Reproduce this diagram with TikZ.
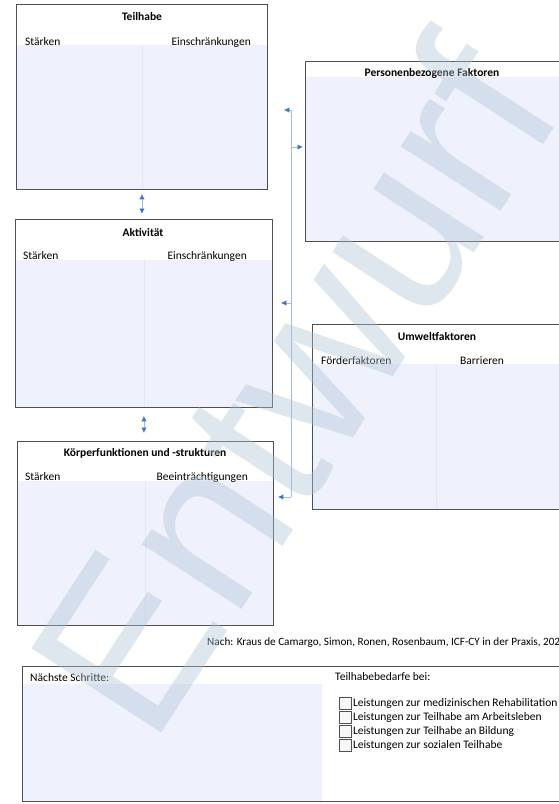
\documentclass[tikz,border=0pt]{standalone}
\usepackage{fontspec}
\setmainfont{Carlito}
\newfontfamily\wmfont{Liberation Sans}
\usetikzlibrary{arrows.meta,positioning,calc,backgrounds}
\definecolor{rahmen}{RGB}{80,80,80}
\definecolor{feld}{RGB}{239,242,252}
\definecolor{trennfarbe}{RGB}{226,231,247}
\definecolor{pfeil}{RGB}{68,114,196}
\definecolor{linie}{RGB}{160,188,234}
\definecolor{wasser}{RGB}{176,194,212}

\begin{document}
\begin{tikzpicture}[x=1pt,y=-1pt,
     panel/.style={draw=rahmen,line width=0.9pt,inner sep=0pt,anchor=north west},
     kopf/.style={font=\fontsize{11.5}{13}\selectfont\bfseries,inner sep=0pt},
     spalte/.style={font=\fontsize{11.5}{13}\selectfont,inner sep=0pt},
     trenn/.style={draw=trennfarbe,line width=0.6pt},
     bus/.style={draw=linie,line width=0.9pt},
     pf/.style={draw=linie,line width=0.9pt,-{Latex[length=5.5pt,width=5.5pt,color=pfeil]}},
     ppf/.style={draw=linie,line width=0.9pt,{Latex[length=5.5pt,width=5.5pt,color=pfeil]}-{Latex[length=5.5pt,width=5.5pt,color=pfeil]}},
     kaestchen/.style={draw=rahmen,fill=gray!6,line width=0.6pt,minimum size=12pt,inner sep=0pt}]
  \useasboundingbox (0,0) rectangle (558,804);

  % Rahmen
  \node[panel,minimum width=251pt,minimum height=185pt] (teil) at (16,4) {};
  \node[panel,minimum width=255pt,minimum height=180pt] (pers) at (305,61) {};
  \node[panel,minimum width=257pt,minimum height=188pt] (akt) at (15,219) {};
  \node[panel,minimum width=248pt,minimum height=185pt] (umw) at (312,324) {};
  \node[panel,minimum width=256pt,minimum height=184pt] (koerp) at (17,441) {};
  \node[panel,minimum width=538pt,minimum height=135pt] (plan) at (22,666) {};

  \begin{scope}[on background layer]
   \fill[feld] (teil.west |- 0,45) rectangle (teil.south east);
   \fill[feld] (pers.west |- 0,77) rectangle (pers.south east);
   \fill[feld] (akt.west |- 0,260) rectangle (akt.south east);
   \fill[feld] (umw.west |- 0,364) rectangle (umw.south east);
   \fill[feld] (koerp.west |- 0,481) rectangle (koerp.south east);
   \fill[feld] (plan.west |- 0,684) rectangle (322,801);
   \draw[trenn] (teil.south |- 0,45) -- (teil.south);
   \draw[trenn] (akt.south |- 0,260) -- (akt.south);
   \draw[trenn] (koerp.south |- 0,481) -- (koerp.south);
   \draw[trenn] (umw.south |- 0,364) -- (umw.south);
  \end{scope}

  % Ueberschriften und Spalten
  \node[kopf] (teilK) at (142,17) {Teilhabe};
  \node[spalte,anchor=west] (teilS) at (25,42) {Stärken};
  \node[spalte,anchor=east] (teilE) at (251,42) {Einschränkungen};
  \node[kopf] (persK) at (432,73) {Personenbezogene Faktoren};
  \node[kopf] (aktK) at (143,232) {Aktivität};
  \node[spalte,anchor=west] (aktS) at (23,256) {Stärken};
  \node[spalte,anchor=east] (aktE) at (247,256) {Einschränkungen};
  \node[kopf] (umwK) at (437,337) {Umweltfaktoren};
  \node[spalte,anchor=west] (umwF) at (321,361) {Förderfaktoren};
  \node[spalte,anchor=west] (umwB) at (460,361) {Barrieren};
  \node[kopf] (koerpK) at (145,453) {Körperfunktionen und -strukturen};
  \node[spalte,anchor=west] (koerpS) at (25,477) {Stärken};
  \node[spalte,anchor=east] (koerpB) at (248,477) {Beeinträchtigungen};

  % Pfeile
  \draw[ppf,shorten <=4pt,shorten >=5pt] (teil.south |- teil.south) -- (teil.south |- akt.north);
  \draw[ppf,shorten <=8pt,shorten >=8pt] (akt.south) -- (akt.south |- koerp.north);
  \coordinate (bus1) at (291,110);
  \coordinate (bus2) at (291,497);
  \draw[bus] (bus1) -- (bus2);
  \draw[pf,shorten >=16pt] (bus1) -- (bus1 -| teil.east);
  \draw[pf,shorten >=2pt] (bus1 |- 0,147) -- (pers.west |- 0,147);
  \draw[pf,shorten >=8pt] (bus1 |- 0,303) -- (akt.east |- 0,303);
  \draw[pf,shorten >=4pt] (bus2) -- (bus2 -| koerp.east);

  \node[spalte,font=\fontsize{11.2}{13}\selectfont,anchor=west] (quelle) at (207,643) {Nach: Kraus de Camargo, Simon, Ronen, Rosenbaum, ICF-CY in der Praxis, 2020};

  % Planung
  \node[spalte,anchor=west] (naechst) at (30,678) {Nächste Schritte:};
  \node[spalte,anchor=west] (bedarf) at (335,677) {Teilhabebedarfe bei:};
  \foreach \t [count=\i] in {Leistungen zur medizinischen Rehabilitation,
      Leistungen zur Teilhabe am Arbeitsleben,Leistungen zur Teilhabe an Bildung,
      Leistungen zur sozialen Teilhabe}{
    \node[kaestchen] (k\i) at (345,689+14*\i) {};
    \node[spalte,right=1.5pt of k\i] (l\i) {\t};
  }

  % Wasserzeichen
  \node[font=\wmfont\fontsize{225}{225}\selectfont,text=wasser,opacity=0.4,rotate=57] (entwurf) at (292,385) {Entwurf};
\end{tikzpicture}
\end{document}
